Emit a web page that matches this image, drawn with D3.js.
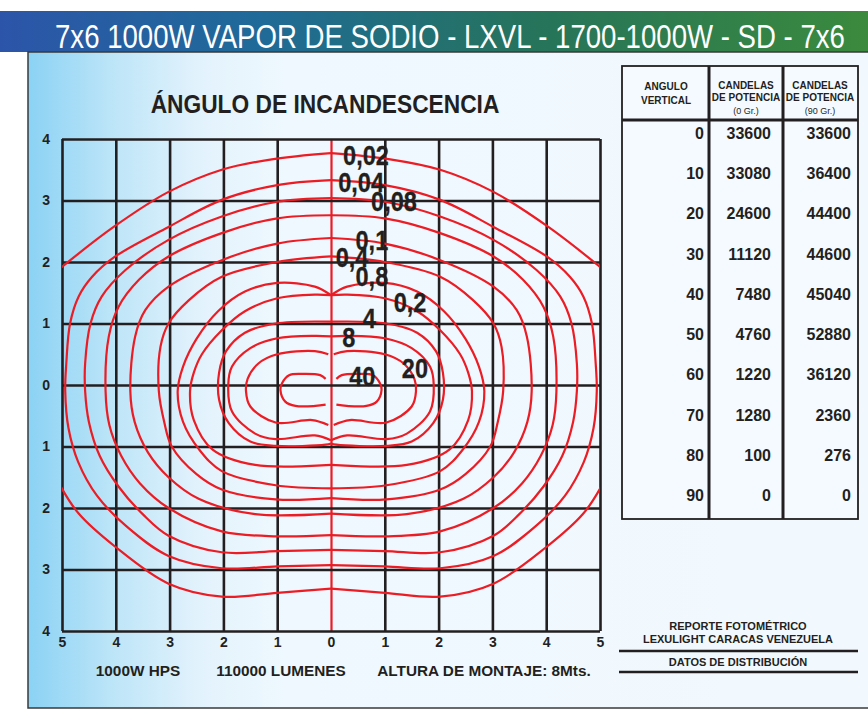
<!DOCTYPE html>
<html>
<head>
<meta charset="utf-8">
<script src="https://cdn.jsdelivr.net/npm/d3@7"></script>
<style>
  body { margin: 0; background: #fff; }
  svg { display: block; }
</style>
</head>
<body>
<div id="chart"></div>
<script>
// ---- data ----
const titleText = "7x6 1000W VAPOR DE SODIO  - LXVL - 1700-1000W - SD - 7x6";
const xTicks = [-5, -4, -3, -2, -1, 0, 1, 2, 3, 4, 5];
const yTicks = [4, 3, 2, 1, 0, -1, -2, -3, -4];

// right half of each isolux line, metres (x right, y up), mirrored for the left half
const c002Top = [[0, 3.77], [1.1, 3.67], [2.03, 3.5], [3.02, 3.14], [4.04, 2.57], [5.03, 1.9]];
const c002Bottom = [[5.03, -1.64], [4.69, -2.09], [4.01, -2.63], [3.02, -3.23], [2.03, -3.44], [1.0, -3.38], [0, -3.31]];
const c004 = [[0, 3.33], [1, 3.25], [2.03, 3.01], [3.02, 2.57], [4.01, 2.09], [4.44, 1.76], [4.69, 1.44], [4.85, 1.0], [4.92, 0.35], [4.94, -0.1], [4.88, -0.7], [4.7, -1.25], [4.35, -1.8], [3.8, -2.3], [3.02, -2.78], [2.03, -2.98], [1.0, -2.95], [0, -2.93]];
const c008 = [[0, 3.04], [1, 2.98], [2.03, 2.74], [3.02, 2.36], [3.82, 1.87], [4.26, 1.44], [4.47, 1.0], [4.57, 0.35], [4.57, -0.1], [4.5, -0.6], [4.3, -1.15], [3.95, -1.65], [3.5, -2.1], [3.02, -2.45], [2.03, -2.72], [1.0, -2.7], [0, -2.68]];
const c01 = [[0, 2.76], [1, 2.71], [2.03, 2.47], [3.02, 2.09], [3.57, 1.71], [3.95, 1.27], [4.13, 0.79], [4.19, -0.1], [4.12, -0.65], [3.9, -1.15], [3.55, -1.6], [3.02, -2.0], [2.03, -2.38], [1.0, -2.46], [0, -2.44]];
const c02 = [[0, 2.39], [1, 2.3], [2.03, 2.03], [3.02, 1.6], [3.45, 1.22], [3.64, 0.79], [3.73, -0.1], [3.65, -0.6], [3.4, -1.1], [3.02, -1.5], [2.46, -1.85], [1.41, -2.1], [0, -2.09]];
const c04 = [[0, 2.09], [1, 2.0], [2.03, 1.76], [2.64, 1.38], [3.02, 1.0], [3.17, 0.62], [3.2, -0.1], [3.1, -0.6], [2.96, -1.0], [2.5, -1.45], [2.03, -1.7], [1.03, -1.86], [0, -1.84]];
const c08 = [[0, 1.46], [0.3, 1.6], [1, 1.66], [1.6, 1.52], [2.1, 1.2], [2.5, 0.75], [2.75, 0.3], [2.85, -0.1], [2.75, -0.6], [2.45, -1.05], [2.03, -1.4], [1.03, -1.63], [0, -1.68]];
const c2 = [[0, 1.46], [0.3, 1.47], [1, 1.41], [1.6, 1.2], [2.03, 0.89], [2.4, 0.5], [2.55, 0.2], [2.62, -0.1], [2.55, -0.57], [2.2, -1.05], [1.41, -1.3], [0, -1.3]];
const c4 = [[0, 1.03], [1.03, 1.0], [1.6, 0.85], [1.95, 0.55], [2.08, 0.2], [2.08, -0.24], [1.9, -0.62], [1.5, -0.92], [1.03, -0.99], [0.1, -0.97], [0, -0.95]];
const c8 = [[0, 0.79], [0.3, 0.8], [1.0, 0.76], [1.5, 0.6], [1.84, 0.3], [1.91, 0.0], [1.84, -0.43], [1.41, -0.79], [1.03, -0.88], [0.3, -0.82], [0, -0.9]];
const c20 = [[0.05, 0.5], [0.3, 0.55], [1.0, 0.5], [1.35, 0.35], [1.55, 0.1], [1.58, -0.1], [1.5, -0.35], [1.03, -0.61], [0.35, -0.57], [0.05, -0.65]];
const c40 = [[0.1, 0.1], [0.2, 0.16], [0.5, 0.18], [0.78, 0.16], [0.91, 0.03], [0.94, -0.08], [0.85, -0.27], [0.66, -0.34], [0.29, -0.34], [0.1, -0.32]];
const isoLines = [c002Top, c002Bottom, c004, c008, c01, c02, c04, c08, c2, c4, c8, c20, c40];

const labelText = ["0,02", "0,04", "0,08", "0,1", "0,4", "0,8", "0,2", "4", "8", "40", "20"];
const labelAt = [[0.65, 3.74], [0.56, 3.3], [1.17, 2.99], [0.76, 2.36], [0.39, 2.08], [0.76, 1.77], [1.47, 1.35], [0.71, 1.09], [0.33, 0.78], [0.58, 0.15], [1.56, 0.28]];

const angles = [0, 10, 20, 30, 40, 50, 60, 70, 80, 90];
const cand0 = [33600, 33080, 24600, 11120, 7480, 4760, 1220, 1280, 100, 0];
const cand90 = [33600, 36400, 44400, 44600, 45040, 52880, 36120, 2360, 276, 0];

const footTexts = ["1000W HPS", "110000 LUMENES", "ALTURA DE MONTAJE: 8Mts."];

// ---- drawing ----
const W = 868, H = 715;
const ink = "#231f20";
const red = "#ec1c24";
const sans = "'Liberation Sans', Arial, sans-serif";

const svg = d3.select("#chart").append("svg").attr("width", W).attr("height", H);
const defs = svg.append("defs");

// no narrow font installed: squeeze the glyphs sideways instead
function narrowText(g, tx, ty, str, size, sx, anchor = "middle") {
  return g.append("text")
    .attr("transform", `translate(${tx},${ty}) scale(${sx},1)`)
    .attr("text-anchor", anchor)
    .attr("font-family", sans).attr("font-weight", "bold").attr("font-size", size)
    .attr("fill", ink)
    .text(str);
}

const barGrad = defs.append("linearGradient").attr("id", "bar");
[[0, "#2c55a9"], [0.3, "#1f6a98"], [0.62, "#26745a"], [1, "#3b8a3d"]].forEach(s =>
  barGrad.append("stop").attr("offset", s[0]).attr("stop-color", s[1]));

const panelGrad = defs.append("linearGradient").attr("id", "panel");
[[0, "#8bd2f4"], [0.1, "#bde5f8"], [0.2, "#e2f2fc"], [0.3, "#eef8fe"], [1, "#f2f9fe"]].forEach(s =>
  panelGrad.append("stop").attr("offset", s[0]).attr("stop-color", s[1]));

// title bar
svg.append("rect").attr("x", 0).attr("y", 11).attr("width", W).attr("height", 41).attr("fill", "url(#bar)");
svg.append("text")
  .attr("transform", "translate(55,48) scale(0.837,1)")
  .attr("font-family", sans).attr("font-size", 33).attr("fill", "#fff")
  .text(titleText);

// panel
svg.append("rect").attr("x", 28).attr("y", 52).attr("width", 850).attr("height", 656)
  .attr("fill", "url(#panel)").attr("stroke", "#3a3a3a").attr("stroke-width", 1.5);

// chart heading
narrowText(svg, 325, 113, "ÁNGULO DE INCANDESCENCIA", 25, 0.91);

// scales
const x = d3.scaleLinear().domain([-5, 5]).range([62, 600]);
const y = d3.scaleLinear().domain([-4, 4]).range([631, 139]);

const gridG = svg.append("g");
const xAxis = gridG.append("g").attr("transform", `translate(0,${y(-4)})`)
  .call(d3.axisBottom(x).tickValues(xTicks).tickSize(-(y(-4) - y(4))).tickPadding(6)
    .tickFormat(d => Math.abs(d)));
const yAxis = gridG.append("g").attr("transform", `translate(${x(-5)},0)`)
  .call(d3.axisLeft(y).tickValues(yTicks).tickSize(-(x(5) - x(-5))).tickPadding(12)
    .tickFormat(d => Math.abs(d)));
[xAxis, yAxis].forEach(a => {
  a.select(".domain").remove();
  a.selectAll("line").attr("stroke", ink).attr("stroke-width", 2.6);
  a.selectAll("text").attr("font-family", sans).attr("font-weight", "bold")
    .attr("font-size", 14).attr("fill", ink);
});
xAxis.selectAll(".tick").filter(d => d === 0).select("line").attr("stroke", red).attr("stroke-width", 2.2);

// isolux lines
defs.append("clipPath").attr("id", "plot").append("rect")
  .attr("x", x(-5)).attr("y", y(4)).attr("width", x(5) - x(-5)).attr("height", y(-4) - y(4));
const line = d3.line().curve(d3.curveCatmullRom.alpha(0.5))
  .x(d => x(d[0])).y(d => y(d[1]));
const iso = svg.append("g").attr("clip-path", "url(#plot)");
isoLines.forEach(pts => {
  [1, -1].forEach(side => {
    iso.append("path")
      .attr("d", line(pts.map(p => [p[0] * side, p[1]])))
      .attr("fill", "none").attr("stroke", red).attr("stroke-width", 2.2);
  });
});

// labels on the lines
const lab = svg.append("g");
labelText.forEach((t, i) => {
  narrowText(lab, x(labelAt[i][0]), y(labelAt[i][1]) + 10, t, 28, 0.84)
    .attr("stroke", ink).attr("stroke-width", 0.3);
});

// footer under the chart
const footX = [138, 281, 484];
const foot = svg.append("g");
footTexts.forEach((t, i) => narrowText(foot, footX[i], 676, t, 15.5, 0.99));

// table
const tbl = svg.append("g");
const tL = 622, tR = 858, tT = 66, tB = 519, c1 = 709, c2x = 783, hB = 120;
tbl.append("rect").attr("x", tL).attr("y", tT).attr("width", tR - tL).attr("height", tB - tT)
  .attr("fill", "#f4faff").attr("stroke", ink).attr("stroke-width", 1.8);
[c1, c2x].forEach(cx => tbl.append("line").attr("x1", cx).attr("x2", cx).attr("y1", tT).attr("y2", tB)
  .attr("stroke", ink).attr("stroke-width", 3));
tbl.append("line").attr("x1", tL).attr("x2", tR).attr("y1", hB).attr("y2", hB)
  .attr("stroke", ink).attr("stroke-width", 3);

const head = [
  { cx: 666, lines: [["ANGULO", 90, 10, "bold"], ["VERTICAL", 104, 10, "bold"]] },
  { cx: 746, lines: [["CANDELAS", 89, 10, "bold"], ["DE POTENCIA", 101, 10, "bold"], ["(0 Gr.)", 114, 9, "normal"]] },
  { cx: 820, lines: [["CANDELAS", 89, 10, "bold"], ["DE POTENCIA", 101, 10, "bold"], ["(90 Gr.)", 114, 9, "normal"]] }
];
head.forEach(h => h.lines.forEach(l => tbl.append("text")
  .attr("x", h.cx).attr("y", l[1]).attr("text-anchor", "middle")
  .attr("font-family", sans).attr("font-weight", l[3]).attr("font-size", l[2]).attr("fill", ink)
  .text(l[0])));

const rowY = d3.scalePoint().domain(angles).range([133, 495]);
const cols = [[angles, 704], [cand0, 771], [cand90, 851]];
cols.forEach(([vals, rx]) => {
  tbl.append("g").selectAll("text").data(vals).join("text")
    .attr("x", rx).attr("y", (d, i) => rowY(angles[i]) + 6)
    .attr("text-anchor", "end")
    .attr("font-family", sans).attr("font-weight", "bold").attr("font-size", 16).attr("fill", ink)
    .text(d => d);
});

// report block
const rep = svg.append("g");
[["REPORTE FOTOMÉTRICO", 630], ["LEXULIGHT CARACAS VENEZUELA", 643], ["DATOS DE DISTRIBUCIÓN", 666]].forEach(r =>
  rep.append("text").attr("x", 738).attr("y", r[1]).attr("text-anchor", "middle")
    .attr("font-family", sans).attr("font-weight", "bold").attr("font-size", 11).attr("fill", ink)
    .text(r[0]));
[651, 672].forEach(ly => rep.append("line").attr("x1", 619).attr("x2", 858).attr("y1", ly).attr("y2", ly)
  .attr("stroke", ink).attr("stroke-width", 2.5));
</script>
</body>
</html>
